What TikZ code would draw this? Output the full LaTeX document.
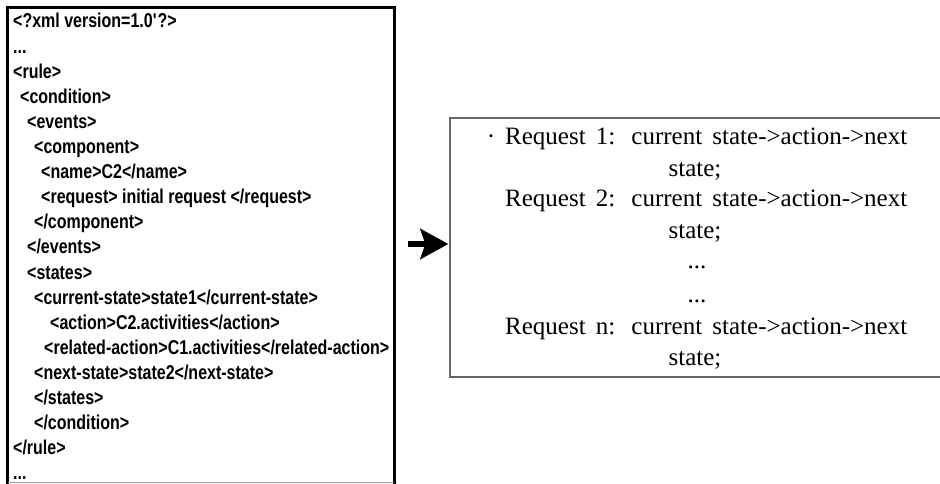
\documentclass[tikz,border=0pt]{standalone}
\usepackage{fontspec}
\setmainfont{Liberation Serif}
\newfontfamily\codefont[FakeStretch=0.8]{Liberation Sans}
\usetikzlibrary{arrows.meta}
\begin{document}
\begin{tikzpicture}[x=1pt,y=-1pt,
  code/.style={anchor=base west, inner sep=0pt,
    font=\codefont\bfseries\fontsize{20}{20}\selectfont},
  prose/.style={anchor=base, inner sep=0pt,
    font=\fontsize{25}{25}\selectfont},
  reqline/.style={anchor=base west, inner sep=0pt,
    font=\fontsize{25}{25}\selectfont},
  bigarrow/.style={line width=6pt, shorten >=1pt,
    -{Stealth[length=28pt,width=30pt,inset=5pt]}},
]
\useasboundingbox (0,0) rectangle (940,484);

% XML listing frame (its lower edge runs along the page edge)
\node[minimum width=386pt, minimum height=476pt, inner sep=0pt] (xmlbox) at (201,246) {};
\draw[line width=3pt] (xmlbox.south west) -- (xmlbox.north west)
  -- (xmlbox.north east) -- (xmlbox.south east);
\draw[line width=1pt, black!40] ([yshift=1.5pt]xmlbox.south west) -- ([yshift=1.5pt]xmlbox.south east);

% XML listing
\node[code] (l1)  at (13,28)    {<?xml version=1.0\textquotesingle?>};
\node[code] (l2)  at (13,53.1)  {...};
\node[code] (l3)  at (13,78.2)  {<rule>};
\node[code] (l4)  at (20,103.3) {<condition>};
\node[code] (l5)  at (27,128.4) {<events>};
\node[code] (l6)  at (34,153.5) {<component>};
\node[code] (l7)  at (41,178.6) {<name>C2</name>};
\node[code] (l8)  at (41,203.7) {<request> initial request </request>};
\node[code] (l9)  at (34,228.8) {</component>};
\node[code] (l10) at (27,253.9) {</events>};
\node[code] (l11) at (27,279)   {<states>};
\node[code] (l12) at (34,304.1) {<current-state>state1</current-state>};
\node[code] (l13) at (50,329.2) {<action>C2.activities</action>};
\node[code] (l14) at (44,354.3) {<related-action>C1.activities</related-action>};
\node[code] (l15) at (34,379.4) {<next-state>state2</next-state>};
\node[code] (l16) at (34,404.5) {</states>};
\node[code] (l17) at (34,429.6) {</condition>};
\node[code] (l18) at (13,454.7) {</rule>};
\node[code] (l19) at (13,479.8) {...};

% request summary frame (runs past the right page edge)
\node[draw=black!60, line width=1.2pt, minimum width=500pt, minimum height=259pt,
  inner sep=0pt] (reqbox) at (700,247.5) {};

\node[prose] (dot) at (491,145) {·};
\node[reqline] (r1) at (505,145) {\makebox[402pt][s]{Request 1: current state->action->next}};
\node[prose] (s1) at (695,176) {state;};
\node[reqline] (r2) at (505,207) {\makebox[402pt][s]{Request 2: current state->action->next}};
\node[prose] (s2) at (695,238) {state;};
\node[prose] (d1) at (697,268) {...};
\node[prose] (d2) at (697,302) {...};
\node[reqline] (rn) at (505,334) {\makebox[402pt][s]{Request n: current state->action->next}};
\node[prose] (sn) at (695,365) {state;};

% arrow from the listing to the summary
\coordinate (arrowtail) at (408,244);
\draw[bigarrow] (arrowtail) -- (reqbox.west |- arrowtail);
\end{tikzpicture}
\end{document}
